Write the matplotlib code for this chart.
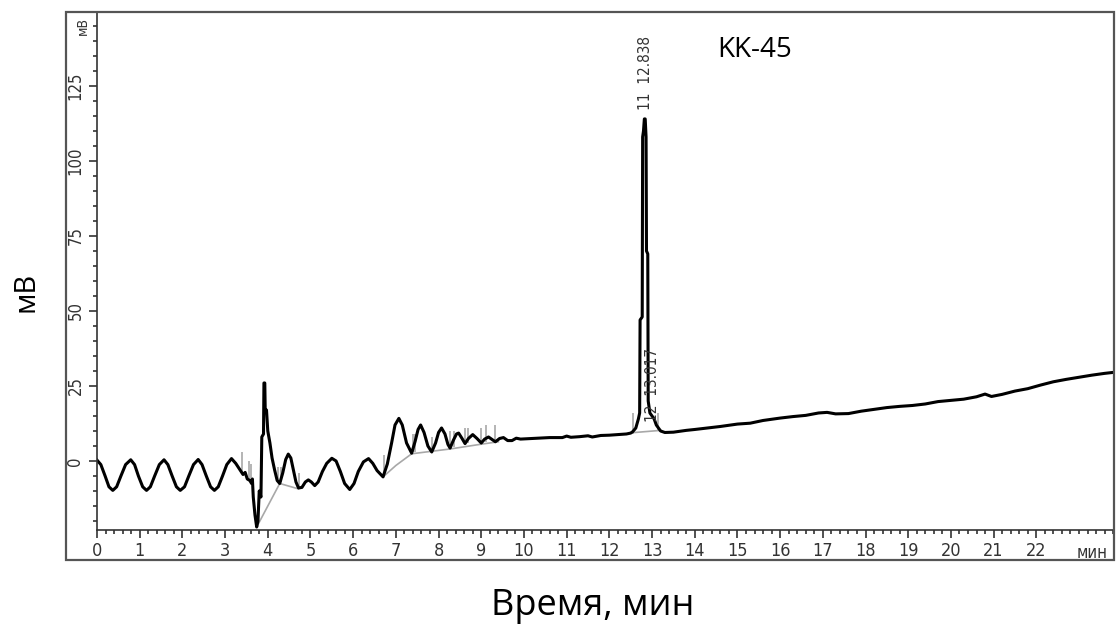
import matplotlib
matplotlib.use('Agg')
import matplotlib.pyplot as plt
from matplotlib.patches import Rectangle
from matplotlib.ticker import MultipleLocator, FixedLocator

# chromatogram trace (min, mV)
time = [0.00, 0.09, 0.19, 0.28, 0.37, 0.46, 0.56, 0.67, 0.79, 0.88, 0.97, 1.07,
        1.16, 1.25, 1.35, 1.46, 1.57, 1.66, 1.76, 1.86, 1.95, 2.05, 2.15, 2.26,
        2.37, 2.46, 2.56, 2.66, 2.75, 2.84, 2.94, 3.04, 3.15, 3.25, 3.35, 3.42,
        3.47, 3.52, 3.58, 3.62, 3.64, 3.66, 3.70, 3.74, 3.77, 3.80, 3.84, 3.86,
        3.90, 3.91, 3.93, 3.94, 3.97, 4.00, 4.05, 4.10, 4.16, 4.22, 4.28, 4.35,
        4.42, 4.48, 4.54, 4.60, 4.66, 4.72, 4.80, 4.88, 4.95, 5.02, 5.10, 5.18,
        5.28, 5.38, 5.50, 5.60, 5.70, 5.80, 5.92, 6.02, 6.12, 6.24, 6.36, 6.46,
        6.56, 6.70, 6.80, 6.90, 6.98, 7.07, 7.15, 7.25, 7.37, 7.45, 7.52, 7.58,
        7.66, 7.75, 7.84, 7.93, 8.00, 8.07, 8.15, 8.22, 8.27, 8.35, 8.42, 8.47,
        8.55, 8.62, 8.70, 8.80, 8.90, 9.00, 9.08, 9.17, 9.25, 9.33, 9.43, 9.52,
        9.62, 9.72, 9.82, 9.92, 10.05, 10.3, 10.6, 10.9, 11.0, 11.1, 11.3, 11.5,
        11.6, 11.8, 12.0, 12.2, 12.4, 12.5, 12.55, 12.62, 12.68, 12.71, 12.72,
        12.77, 12.78, 12.80, 12.82, 12.84, 12.86, 12.87, 12.90, 12.91, 12.95,
        13.00, 13.05, 13.10, 13.20, 13.30, 13.50, 13.80, 14.0, 14.3, 14.6, 15.0,
        15.3, 15.6, 16.0, 16.3, 16.6, 16.9, 17.1, 17.3, 17.6, 17.9, 18.2, 18.5,
        18.8, 19.1, 19.4, 19.7, 20.0, 20.3, 20.6, 20.8, 20.95, 21.2, 21.5, 21.8,
        22.1, 22.4, 22.7, 23.0, 23.3, 23.6, 23.85]
signal = [0.3, -1.2, -5.0, -8.6, -9.8, -8.6, -5.0, -1.2, 0.4, -1.2, -5.0, -8.6,
          -9.8, -8.6, -5.0, -1.2, 0.4, -1.2, -5.0, -8.6, -9.8, -8.6, -5.0, -1.2,
          0.5, -1.2, -5.0, -8.6, -9.8, -8.6, -5.0, -1.2, 0.8, -0.8, -3.0, -4.5,
          -3.8, -6.0, -6.5, -7.5, -6.0, -12.0, -18.0, -22.0, -20.0, -10.0, -12.0, 8.0,
          9.0, 26.0, 26.0, 17.0, 17.0, 10.0, 6.0, 1.0, -3.0, -6.5, -7.5, -4.0,
          0.5, 2.3, 1.0, -3.0, -7.0, -9.0, -8.8, -7.0, -6.3, -7.0, -8.2, -7.0,
          -3.5, -0.8, 0.9, 0.0, -3.5, -7.5, -9.5, -7.5, -3.5, -0.3, 0.8, -0.8,
          -3.2, -5.3, -1.0, 6.0, 12.0, 14.2, 12.0, 6.0, 2.6, 6.5, 10.5, 12.0,
          9.5, 5.0, 3.0, 6.0, 9.5, 11.0, 9.0, 5.5, 4.3, 7.0, 9.0, 9.3,
          7.5, 5.8, 7.5, 8.8, 7.5, 6.0, 7.3, 8.0, 7.2, 6.4, 7.5, 7.8,
          6.8, 6.8, 7.6, 7.3, 7.4, 7.6, 7.8, 7.8, 8.3, 7.9, 8.1, 8.4,
          8.0, 8.5, 8.6, 8.8, 9.0, 9.3, 9.8, 11.0, 14.0, 16.0, 47.0,
          48.0, 108.0, 110.0, 114.0, 114.0, 108.0, 70.0, 69.0, 20.0, 16.0,
          15.0, 14.0, 12.0, 10.0, 9.5, 9.6, 10.2, 10.5, 11.0, 11.5, 12.3,
          12.6, 13.5, 14.3, 14.8, 15.2, 16.0, 16.2, 15.7, 15.8, 16.6, 17.2, 17.8,
          18.2, 18.5, 19.0, 19.8, 20.2, 20.6, 21.4, 22.3, 21.5, 22.2, 23.3, 24.1,
          25.3, 26.4, 27.2, 27.9, 28.6, 29.2, 29.6]

# integration baselines drawn in grey
base1_t = [3.74, 4.28, 4.72]
base1_v = [-22.0, -7.5, -9.3]
base2_t = [6.70, 7.00, 7.37, 8.27, 9.00, 9.40]
base2_v = [-5.3, -1.5, 2.4, 4.0, 5.6, 6.4]
base3_t = [12.60, 13.20]
base3_v = [9.5, 10.2]

# peak boundary marks (time, low, high)
mark_t = [3.40, 3.55, 3.60, 4.25, 4.30, 4.72, 6.72, 7.40, 7.45, 7.85, 8.27, 8.35,
          8.62, 8.70, 9.00, 9.10, 9.33, 12.55, 13.15]
mark_lo = [-4.0, -6.0, -7.0, -7.0, -7.0, -9.0, -5.0, 3.0, 3.0, 3.0, 4.3, 4.5,
           6.0, 6.0, 6.0, 6.2, 6.5, 9.0, 10.0]
mark_hi = [3.0, 0.0, -1.0, -2.0, -2.0, -4.0, 2.0, 9.0, 9.0, 8.0, 10.0, 10.0,
           11.0, 11.0, 11.0, 12.0, 12.0, 16.0, 16.0]

x_ticks = list(range(0, 23))
y_ticks = [0, 25, 50, 75, 100, 125]

small = dict(family='DejaVu Sans', fontstretch='condensed', color='#333333')
big = ['Open Sans', 'DejaVu Sans']

fig = plt.figure(figsize=(11.17, 6.32), dpi=100)
W, H = 1117, 632
ax = fig.add_axes([97 / W, (H - 530) / H, (1114 - 97) / W, (530 - 13) / H])

ax.plot(base1_t, base1_v, color='#a8a8a8', lw=1.2)
ax.plot(base2_t, base2_v, color='#a8a8a8', lw=1.2)
ax.plot(base3_t, base3_v, color='#a8a8a8', lw=1.2)
ax.vlines(mark_t, mark_lo, mark_hi, color='#a8a8a8', lw=1.2)
ax.plot(time, signal, color='black', lw=2.2)

ax.set_xlim(0, 23.82)
ax.set_ylim(-23, 149.3)

ax.spines['top'].set_visible(False)
ax.spines['right'].set_visible(False)
for s in ['left', 'bottom']:
    ax.spines[s].set_color('#333333')
    ax.spines[s].set_linewidth(1.2)

ax.xaxis.set_major_locator(FixedLocator(x_ticks))
ax.xaxis.set_minor_locator(MultipleLocator(0.2))
ax.yaxis.set_major_locator(FixedLocator(y_ticks))
ax.yaxis.set_minor_locator(MultipleLocator(5))
ax.tick_params(axis='both', which='major', length=6, width=1.2, color='#333333')
ax.tick_params(axis='both', which='minor', length=3, width=1.2, color='#333333')
ax.set_xticklabels([str(v) for v in x_ticks], fontsize=13, **small)
ax.set_yticklabels([str(v) for v in y_ticks], fontsize=12, rotation=90, va='center', **small)
ax.tick_params(axis='x', pad=3)
ax.tick_params(axis='y', pad=3)

ax.text(23.3, -27.5, 'мин', fontsize=12, ha='center', va='top', **small)
ax.text(-0.32, 145, 'мВ', fontsize=10, rotation=90, ha='center', va='center', **small)

ax.text(12.838, 117, '11  12.838', rotation=90, fontsize=11, ha='center', va='bottom', **small)
ax.text(13.02, 13, '12  13.017', rotation=90, fontsize=11, ha='center', va='bottom', **small)

fig.text(755 / W, 1 - 50 / H, 'KK-45', fontsize=20, family=big, ha='center', va='center')
fig.text(26 / W, 1 - 292 / H, 'мВ', fontsize=21, family=big, rotation=90,
         ha='center', va='center')
fig.text(593 / W, 1 - 606 / H, 'Время, мин', fontsize=26, family=big,
         ha='center', va='center')

fig.patches.append(Rectangle((66 / W, 1 - 560 / H), (1114 - 66) / W, (560 - 12) / H,
                             transform=fig.transFigure, fill=False, lw=1.6,
                             edgecolor='#555555'))

fig.savefig('out.png', dpi=100)
